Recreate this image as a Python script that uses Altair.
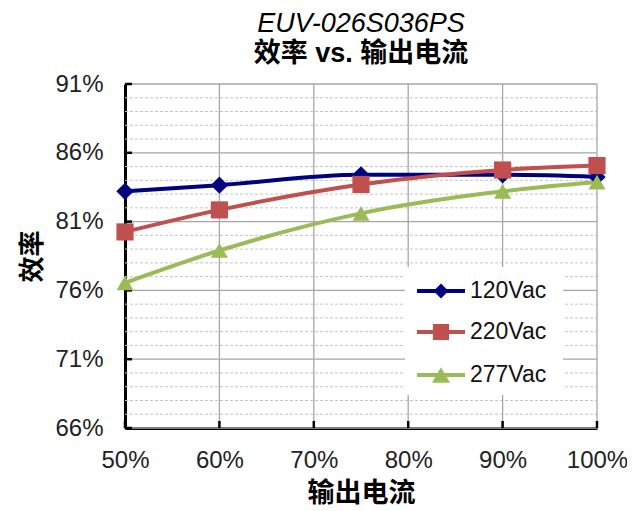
import altair as alt
import pandas as pd

# ---- data ----
load_pct = [50, 60, 75, 90, 100]
eff_120 = [83.2, 83.65, 84.4, 84.4, 84.25]
eff_220 = [80.25, 81.85, 83.7, 84.75, 85.07]
eff_277 = [76.55, 78.9, 81.6, 83.2, 83.87]
series_names = ["120Vac", "220Vac", "277Vac"]
series_colors = ["#000080", "#C0504D", "#9BBB59"]
series_shapes = ["diamond", "square", "triangle-up"]
y_major = [66, 71, 76, 81, 86, 91]
y_minor = [v for v in range(66, 92) if v not in y_major]
x_ticks = [50, 60, 70, 80, 90, 100]

rows = []
for name, vals in zip(series_names, [eff_120, eff_220, eff_277]):
    for l, e in zip(load_pct, vals):
        rows.append({"load": l, "eff": e, "series": name})
df = pd.DataFrame(rows)

W, H = 472, 344
FONT = "Liberation Sans, Arial, Noto Sans CJK SC"
GRID = "#a6a6a6"
marker_sizes = [300, 290, 400]
legend_marker_sizes = [220, 260, 330]

x_axis = alt.Axis(values=x_ticks, labelExpr="datum.value + '%'", title="输出电流",
                  titleFont=FONT, titleFontSize=27, titleFontWeight="bold", titleColor="black",
                  titleY=65, titleBaseline="middle",
                  labelFont=FONT, labelFontSize=24, labelColor="#222", labelPadding=20,
                  labelFlush=False, ticks=False, grid=False,
                  domainColor="black", domainWidth=3)
y_axis = alt.Axis(values=y_major, labelExpr="datum.value + '%'", title="效率",
                  titleFont=FONT, titleFontSize=26, titleFontWeight="bold", titleColor="black",
                  titleAngle=270, titleX=-93, titleY=H / 2, titleAlign="center",
                  titleBaseline="middle",
                  labelFont=FONT, labelFontSize=24, labelColor="#222", labelPadding=22,
                  ticks=False, grid=False, domainColor="black", domainWidth=3)
x_scale = alt.Scale(domain=[50, 100], nice=False)
y_scale = alt.Scale(domain=[66, 91], nice=False, zero=False)


def X(field):
    return alt.X(field, type="quantitative", scale=x_scale, axis=x_axis)


def Y(field):
    return alt.Y(field, type="quantitative", scale=y_scale, axis=y_axis)


minor_df = pd.DataFrame({"v": y_minor})
major_df = pd.DataFrame({"v": y_major})
xt_df = pd.DataFrame({"v": x_ticks})
one = pd.DataFrame({"a": [0]})

minor_grid = alt.Chart(minor_df).mark_rule(color="#c4c4c4", strokeWidth=1, strokeDash=[3, 2]).encode(
    y=Y("v"), x=alt.value(0), x2=alt.value(W))
major_grid = alt.Chart(major_df).mark_rule(color=GRID, strokeWidth=1.3).encode(
    y=Y("v"), x=alt.value(0), x2=alt.value(W))
vert_grid = alt.Chart(pd.DataFrame({"v": x_ticks[1:]})).mark_rule(color=GRID, strokeWidth=1.3).encode(
    x=X("v"), y=alt.value(0), y2=alt.value(H))

legend_box = alt.Chart(one).mark_rect(color="white").encode(
    x=alt.value(280), x2=alt.value(438), y=alt.value(183), y2=alt.value(311))

y_tick_marks = alt.Chart(major_df).mark_rule(color="black", strokeWidth=2.5).encode(
    y=Y("v"), x=alt.value(0), x2=alt.value(7))
x_tick_marks = alt.Chart(xt_df).mark_rule(color="black", strokeWidth=2.5).encode(
    x=X("v"), y=alt.value(H), y2=alt.value(H - 7))

color_scale = alt.Scale(domain=series_names, range=series_colors)
shape_scale = alt.Scale(domain=series_names, range=series_shapes)
size_scale = alt.Scale(domain=series_names, range=marker_sizes)

lines = alt.Chart(df).mark_line(interpolate="monotone", strokeWidth=4).encode(
    x=X("load"), y=Y("eff"),
    color=alt.Color("series:N", scale=color_scale, legend=None),
    detail="series:N")
points = alt.Chart(df).mark_point(filled=True, opacity=1).encode(
    x=X("load"), y=Y("eff"),
    color=alt.Color("series:N", scale=color_scale, legend=None),
    shape=alt.Shape("series:N", scale=shape_scale, legend=None),
    size=alt.Size("series:N", scale=size_scale, legend=None))

layers = [minor_grid, major_grid, vert_grid, legend_box, y_tick_marks, x_tick_marks, lines, points]

legend_rows = [207, 248, 291]
for name, col, shp, msz, ry in zip(series_names, series_colors, series_shapes,
                                   legend_marker_sizes, legend_rows):
    ldf = pd.DataFrame({"series": [name]})
    layers.append(alt.Chart(ldf).mark_rule(color=col, strokeWidth=4).encode(
        x=alt.value(292), x2=alt.value(340), y=alt.value(ry)))
    layers.append(alt.Chart(ldf).mark_point(shape=shp, filled=True, opacity=1, color=col, size=msz).encode(
        x=alt.value(316), y=alt.value(ry)))
    layers.append(alt.Chart(ldf).mark_text(align="left", baseline="middle", font=FONT,
                                           fontSize=23, color="#111").encode(
        x=alt.value(345), y=alt.value(ry), text="series:N"))

chart = alt.layer(*layers).properties(
    width=W, height=H,
    autosize="none",
    padding={"left": 117, "top": 76, "right": 30, "bottom": 83},
    background="white",
    title=alt.TitleParams(
        text="EUV-026S036PS", subtitle="效率 vs. 输出电流",
        font=FONT, fontSize=27, fontStyle="italic", fontWeight="normal", color="black",
        subtitleFont=FONT, subtitleFontSize=27, subtitleFontWeight="bold", subtitleColor="black",
        anchor="middle", offset=4, subtitlePadding=3),
).configure_view(strokeWidth=0)

chart.save("out.html", embed_options={"renderer": "svg", "actions": False})
